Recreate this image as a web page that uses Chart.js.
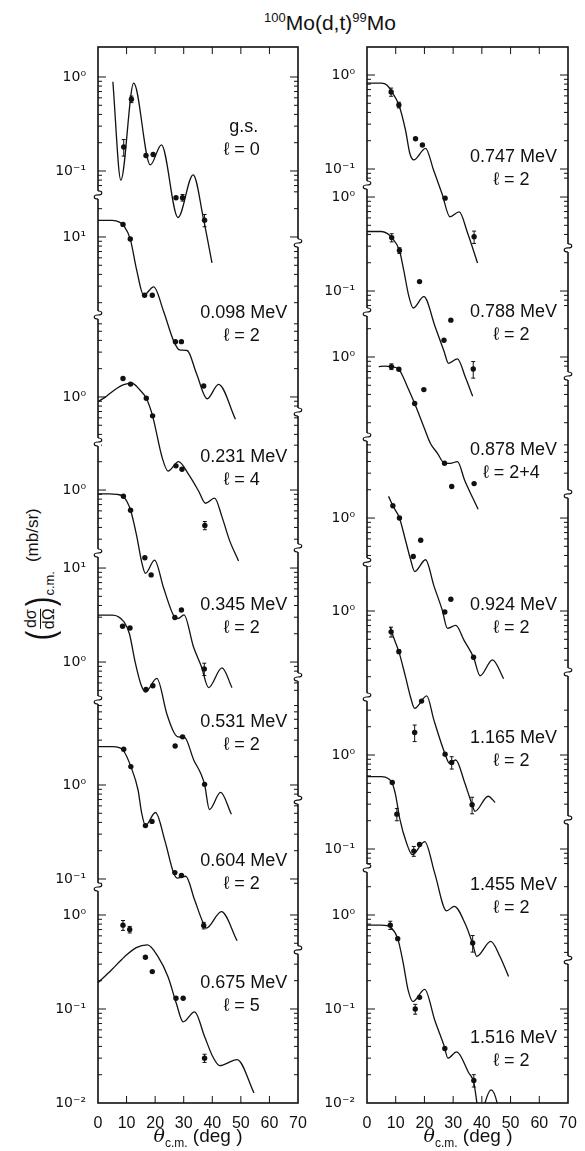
<!DOCTYPE html>
<html>
<head>
<meta charset="utf-8">
<script src="https://cdn.jsdelivr.net/npm/chart.js@4.4.1/dist/chart.umd.min.js"></script>
<style>
  html, body { margin: 0; padding: 0; background: #fff; }
  body { width: 585px; height: 1151px; position: relative; overflow: hidden;
         font-family: "Liberation Sans", Arial, sans-serif; color: #111; }
  canvas { position: absolute; top: 0; }
  #c1 { left: 0; }
  #c2 { left: 310px; }
  #title { position: absolute; left: 230px; top: 10px; width: 200px; text-align: center;
           font-size: 21px; white-space: nowrap; }
  #title sup { font-size: 13px; vertical-align: 8px; }
  #ylab { position: absolute; left: 40px; top: 575px; transform: translate(-50%, -50%) rotate(-90deg);
          display: flex; align-items: center; white-space: nowrap; font-size: 17px; }
  #ylab .par { font-size: 38px; line-height: 1; transform: scaleX(0.75); }
  #ylab .frac { display: inline-flex; flex-direction: column; align-items: center; font-size: 16px; line-height: 1.05; }
  #ylab .num { border-bottom: 1.3px solid #111; padding: 0 1px; }
  #ylab .cm { font-size: 13px; align-self: flex-end; margin-bottom: 2px; }
  #ylab .unit { margin-left: 9px; transform: translateY(-7px); }
  .xt { position: absolute; top: 1124px; width: 160px; text-align: center; font-size: 19px; white-space: nowrap; }
  .xt i { font-family: "DejaVu Serif", serif; }
  .xt sub { font-size: 12px; }
</style>
</head>
<body>
<div id="title"><sup>100</sup>Mo(d,t)<sup>99</sup>Mo</div>
<div id="ylab"><span class="par">(</span><span class="frac"><span class="num">dσ</span><span>dΩ</span></span><span class="par">)</span><span class="cm">c.m.</span><span class="unit">(mb/sr)</span></div>
<canvas id="c1" width="320" height="1151"></canvas>
<canvas id="c2" width="275" height="1151"></canvas>
<div class="xt" style="left:118px"><i>θ</i><sub>c.m.</sub> (deg )</div>
<div class="xt" style="left:388px"><i>θ</i><sub>c.m.</sub> (deg )</div>
<script>
// 100Mo(d,t)99Mo angular distributions: DWBA fits (lines) and data (dots).
// Each entry is [theta_cm (deg), dsigma/dOmega (mb/sr)], data points carry a
// relative error as third value (0 = bar hidden by the dot).

// ---- left column ----
const fit_gs = [[5.2,0.89],[8.0,0.08],[12.5,0.86],[18.3,0.116],[22.2,0.19],[28.0,0.032],[33.3,0.091],[37.0,0.03],[39.9,0.0105]];
const exp_gs = [[9.0,0.18,0.2],[11.7,0.58,0.08],[16.8,0.146,0],[19.3,0.15,0],[27.3,0.052,0],[29.6,0.052,0.08],[37.3,0.030,0.15]];

const fit_098 = [[0,15],[5,15],[7.5,14.4],[9,13.2],[11.3,9.5],[13.5,4.5],[16.0,2.4],[19.5,2.95],[23,1.6],[26.5,0.78],[28.5,0.63],[31.2,0.62],[34.5,0.35],[38.2,0.19],[42.2,0.27],[48.1,0.115]];
const exp_098 = [[8.75,13.6,0],[11.3,9.5,0],[16.3,2.4,0],[19.0,2.4,0],[27.1,0.77,0],[29.2,0.77,0],[37.0,0.26,0]];

const fit_231 = [[0,0.89],[3,1.02],[6,1.2],[9,1.35],[11.9,1.4],[14.5,1.2],[16.9,0.97],[19.1,0.63],[22.4,0.23],[24.5,0.163],[28.2,0.205],[31.7,0.15],[35.2,0.1],[37.6,0.074],[40.8,0.084],[43.4,0.053],[46,0.03],[49.2,0.018]];
const exp_231 = [[8.75,1.57,0],[11.4,1.37,0],[16.9,0.97,0],[19.1,0.63,0],[27.3,0.185,0],[29.4,0.17,0],[37.4,0.043,0.1]];

const fit_345 = [[0,0.91],[4,0.91],[6.5,0.9],[8.9,0.85],[11.4,0.61],[13.5,0.33],[15.4,0.166],[16.6,0.13],[19.8,0.18],[23,0.09],[26.5,0.046],[28.0,0.043],[30.1,0.047],[33.4,0.0215],[36.2,0.0132],[38.7,0.0079],[43.4,0.0128],[46.9,0.0079]];
const exp_345 = [[8.9,0.86,0],[11.4,0.61,0],[16.4,0.19,0],[18.6,0.125,0],[26.9,0.044,0],[29.2,0.053,0],[37.2,0.0125,0.15]];

const fit_531 = [[0,3.16],[5,3.16],[7,3.05],[9,2.7],[11,2.0],[13,1.0],[15,0.58],[16.6,0.48],[20.6,0.67],[24.1,0.28],[26.5,0.18],[28,0.16],[30.3,0.158],[33.5,0.091],[36,0.065],[37.3,0.05],[39,0.027],[42.9,0.041],[46.7,0.024]];
const exp_531 = [[8.6,2.4,0],[11.2,2.3,0],[16.8,0.51,0],[19.2,0.56,0],[27.0,0.128,0],[29.6,0.16,0],[37.3,0.05,0]];

const fit_604 = [[0,2.56],[5,2.56],[7.4,2.5],[9,2.3],[11.5,1.57],[14,0.89],[15.3,0.5],[16.6,0.37],[20.1,0.51],[23.5,0.25],[26.3,0.12],[27.7,0.102],[30.7,0.107],[33.8,0.06],[37.0,0.033],[37.9,0.030],[43.2,0.045],[48.7,0.022]];
const exp_604 = [[9.0,2.4,0],[11.5,1.57,0],[16.6,0.37,0],[18.9,0.41,0],[26.9,0.117,0],[29.2,0.109,0],[37.0,0.032,0.08]];

const fit_675 = [[0,0.19],[4.7,0.26],[9.3,0.36],[13.4,0.45],[17.3,0.48],[21,0.36],[24.5,0.22],[27.4,0.115],[29.8,0.073],[33.8,0.093],[37.3,0.051],[40.2,0.031],[42.6,0.025],[48.7,0.029],[54.6,0.0128]];
const exp_675 = [[8.75,0.78,0.12],[11.1,0.70,0.08],[16.6,0.355,0],[19.0,0.25,0],[27.3,0.13,0],[29.8,0.13,0],[37.3,0.030,0.1]];

// ---- right column ----
const fit_747 = [[0,0.82],[5,0.82],[7,0.78],[8.4,0.68],[11.1,0.48],[13.4,0.26],[14.9,0.147],[16.3,0.125],[20.4,0.166],[23.2,0.097],[26.1,0.055],[28.9,0.031],[32.1,0.035],[35.0,0.021],[38.5,0.01]];
const exp_747 = [[8.4,0.66,0.1],[11.1,0.48,0.07],[16.9,0.21,0],[19.3,0.18,0],[27.2,0.049,0],[37.3,0.019,0.15]];

const fit_788 = [[0,0.43],[5,0.43],[7,0.41],[8.6,0.37],[11.3,0.27],[12.8,0.166],[14.5,0.09],[16.1,0.066],[19.8,0.087],[23.7,0.042],[26.8,0.023],[28.4,0.017],[31.5,0.019],[34.3,0.012],[36.8,0.0076]];
const exp_788 = [[8.6,0.37,0.1],[11.3,0.27,0.07],[18.3,0.126,0],[26.8,0.030,0],[29.2,0.049,0],[37.0,0.0148,0.2]];

const fit_878 = [[4.1,0.79],[6,0.8],[8.5,0.79],[11.1,0.74],[12.5,0.62],[14.5,0.45],[16.6,0.32],[19.8,0.18],[22.1,0.12],[24.5,0.095],[26.8,0.075],[29,0.074],[31.5,0.077],[34.0,0.049],[38.7,0.024]];
const exp_878 = [[8.5,0.79,0.07],[11.1,0.74,0],[16.6,0.32,0],[19.8,0.45,0],[27.0,0.074,0],[29.5,0.042,0],[37.3,0.045,0]];

const fit_924 = [[7.5,1.7],[9.0,1.35],[11.3,1.0],[13.4,0.58],[15.2,0.36],[16.6,0.27],[20.4,0.36],[23.3,0.19],[26.2,0.105],[28.0,0.067],[30.9,0.072],[33.8,0.05],[37.1,0.033],[39.4,0.021],[43.7,0.031],[47.6,0.0195]];
const exp_924 = [[9.0,1.35,0],[11.3,1.0,0],[16.1,0.39,0],[18.7,0.58,0],[27.1,0.10,0],[29.2,0.137,0],[37.1,0.033,0]];

const fit_1165 = [[8.0,0.68],[9.5,0.5],[11.1,0.37],[13.4,0.2],[15.2,0.12],[16.6,0.092],[20.8,0.125],[23.3,0.069],[27.2,0.030],[28.7,0.024],[30.9,0.026],[34,0.015],[36.6,0.0087],[37.6,0.0074],[42.2,0.0107],[44.6,0.0092]];
const exp_1165 = [[8.4,0.60,0.12],[11.1,0.37,0.05],[16.6,0.051,0.2],[19.0,0.11,0],[27.2,0.030,0],[29.5,0.0245,0.15],[36.6,0.0087,0.2]];

const fit_1455 = [[0,0.59],[5,0.59],[7.5,0.56],[8.8,0.5],[10,0.37],[11.4,0.21],[13.8,0.115],[15.8,0.087],[20.1,0.12],[23.6,0.055],[27.7,0.022],[30.4,0.0245],[34.2,0.016],[36.8,0.0098],[38.2,0.0072],[43.1,0.0104],[46.3,0.0072],[49.3,0.0044]];
const exp_1455 = [[8.8,0.51,0],[10.4,0.235,0.15],[16.3,0.095,0.12],[18.3,0.112,0],[36.8,0.010,0.2]];

const fit_1516 = [[0,0.78],[5,0.78],[7,0.77],[8.1,0.75],[10.7,0.56],[12.6,0.31],[14.3,0.16],[16.0,0.12],[20.1,0.162],[23.6,0.076],[26.8,0.041],[28.2,0.030],[31.2,0.035],[35.4,0.021],[37.2,0.0165],[38.5,0.009],[39.5,0.006],[41,0.0098],[43.2,0.0138],[45.5,0.0095],[46.5,0.006]];
const exp_1516 = [[8.1,0.78,0.1],[10.7,0.56,0],[16.8,0.10,0.12],[18.3,0.133,0],[27.1,0.038,0],[37.2,0.0174,0.15]];

const leftStates = ["g.s.", "0.098 MeV", "0.231 MeV", "0.345 MeV", "0.531 MeV", "0.604 MeV", "0.675 MeV"];
const leftL = ["ℓ = 0", "ℓ = 2", "ℓ = 4", "ℓ = 2", "ℓ = 2", "ℓ = 2", "ℓ = 5"];
const rightStates = ["0.747 MeV", "0.788 MeV", "0.878 MeV", "0.924 MeV", "1.165 MeV", "1.455 MeV", "1.516 MeV"];
const rightL = ["ℓ = 2", "ℓ = 2", "ℓ = 2+4", "ℓ = 2", "ℓ = 2", "ℓ = 2", "ℓ = 2"];

// ---- layout: the y axis runs in decades counted from the bottom edge.
// Each curve is shifted so that 10^0 of its own scale sits at `zero`.
const TOP = 11.234;
const leftPanel = {
  fits: [fit_gs, fit_098, fit_231, fit_345, fit_531, fit_604, fit_675],
  exps: [exp_gs, exp_098, exp_231, exp_345, exp_531, exp_604, exp_675],
  states: leftStates, ells: leftL,
  zero: [10.915, 8.213, 7.511, 6.521, 4.691, 3.383, 2.0],
  decades: [[0, -1], [1], [0], [0], [1, 0], [0, -1], [0, -1, -2]],
  breaks: [9.66, 8.383, 7.032, 5.851, 4.287, 2.298],
  rightBreaks: [9.149, 7.351, 5.904, 4.532, 3.223, 1.628],
  textY: [10.383, 8.404, 6.872, 5.298, 4.053, 2.574, 1.277],
  axisWidth: 98, padRight: 22,
};
const rightPanel = {
  fits: [fit_747, fit_788, fit_878, fit_924, fit_1165, fit_1455, fit_1516],
  exps: [exp_747, exp_788, exp_878, exp_924, exp_1165, exp_1455, exp_1516],
  states: rightStates, ells: rightL,
  zero: [10.936, 9.638, 7.936, 6.223, 5.234, 3.702, 2.0],
  decades: [[0, -1], [0, -1], [0], [0], [0], [0, -1], [0, -1, -2]],
  breaks: [9.766, 8.415, 7.085, 5.755, 4.319, 2.5],
  rightBreaks: [9.096, 7.734, 6.479, 4.585, 3.011, 1.521],
  textY: [10.064, 8.415, 6.947, 5.298, 3.883, 2.319, 0.691],
  axisWidth: 57, padRight: 17,
};

const SUP = { "0": "⁰", "1": "¹", "2": "²", "-": "⁻" };
const powLabel = (k) => "10" + String(k).split("").map((c) => SUP[c]).join("");

function segBounds(panel, i) {
  const hi = i === 0 ? TOP : panel.breaks[i - 1];
  const lo = i === panel.breaks.length ? 0 : panel.breaks[i];
  return [lo, hi];
}

function labelTicks(panel) {
  const out = [];
  panel.decades.forEach((ks, i) => ks.forEach((k) => out.push({ value: panel.zero[i] + k, text: powLabel(k) })));
  return out;
}

function allTicks(panel) {
  const out = [];
  panel.zero.forEach((z, i) => {
    const [lo, hi] = segBounds(panel, i);
    for (let k = -4; k <= 3; k++) {
      for (let m = 1; m <= 9; m++) {
        const v = z + k + Math.log10(m);
        if (v > lo + 0.03 && v < hi - 0.03) out.push({ v, major: m === 1 });
      }
    }
  });
  return out;
}

function squiggle(ctx, x, y) {
  ctx.save();
  ctx.fillStyle = "#fff";
  ctx.fillRect(x - 3, y - 4, 6, 8);
  ctx.beginPath();
  ctx.moveTo(x, y - 4);
  ctx.bezierCurveTo(x + 5, y - 4, x + 5, y, x, y);
  ctx.bezierCurveTo(x - 5, y, x - 5, y + 4, x, y + 4);
  ctx.lineWidth = 1.2;
  ctx.strokeStyle = "#111";
  ctx.stroke();
  ctx.restore();
}

function framePlugin(panel) {
  return {
    id: "frame",
    afterDatasetsDraw(chart) {
      const { ctx, chartArea: a } = chart;
      const xs = chart.scales.x, ys = chart.scales.y;
      ctx.save();
      ctx.strokeStyle = "#111";

      // error bars
      ctx.lineWidth = 1;
      panel.exps.forEach((pts, i) => pts.forEach(([t, s, e]) => {
        if (!e) return;
        const px = xs.getPixelForValue(t);
        const y1 = ys.getPixelForValue(Math.log10(s * (1 + e)) + panel.zero[i]);
        const y2 = ys.getPixelForValue(Math.log10(s * (1 - e)) + panel.zero[i]);
        ctx.beginPath();
        ctx.moveTo(px, y1); ctx.lineTo(px, y2);
        ctx.moveTo(px - 2, y1); ctx.lineTo(px + 2, y1);
        ctx.moveTo(px - 2, y2); ctx.lineTo(px + 2, y2);
        ctx.stroke();
      }));

      // frame
      ctx.lineWidth = 1.6;
      ctx.strokeRect(a.left, a.top, a.right - a.left, a.bottom - a.top);

      // inward ticks, log minors on both sides
      ctx.lineWidth = 1;
      ctx.beginPath();
      allTicks(panel).forEach(({ v, major }) => {
        const py = ys.getPixelForValue(v);
        const len = major ? 8 : 4;
        ctx.moveTo(a.left, py); ctx.lineTo(a.left + len, py);
        if (!panel.rightBreaks.some((b) => Math.abs(b - v) < 0.06)) {
          ctx.moveTo(a.right, py); ctx.lineTo(a.right - len, py);
        }
      });
      for (let t = 10; t <= 60; t += 10) {
        const px = xs.getPixelForValue(t);
        ctx.moveTo(px, a.top); ctx.lineTo(px, a.top + 7);
        ctx.moveTo(px, a.bottom); ctx.lineTo(px, a.bottom - 7);
      }
      ctx.stroke();

      // axis breaks
      panel.breaks.forEach((b) => squiggle(ctx, a.left, ys.getPixelForValue(b)));
      panel.rightBreaks.forEach((b) => squiggle(ctx, a.right, ys.getPixelForValue(b)));

      // state labels
      ctx.fillStyle = "#111";
      ctx.textAlign = "center";
      ctx.textBaseline = "middle";
      ctx.font = '18px "Liberation Sans", Arial, sans-serif';
      const cx = xs.getPixelForValue(51);
      panel.states.forEach((s, i) => {
        const py = ys.getPixelForValue(panel.textY[i]);
        ctx.fillText(s, cx, py);
        ctx.fillText(panel.ells[i], cx - 2, py + 23);
      });
      ctx.restore();
    },
  };
}

function makeChart(id, panel) {
  const datasets = [];
  panel.fits.forEach((fit, i) => datasets.push({
    data: fit.map(([t, s]) => ({ x: t, y: Math.log10(s) + panel.zero[i] })),
    borderColor: "#111", borderWidth: 1.3, pointRadius: 0,
    cubicInterpolationMode: "monotone", fill: false,
  }));
  panel.exps.forEach((pts, i) => datasets.push({
    data: pts.map(([t, s]) => ({ x: t, y: Math.log10(s) + panel.zero[i] })),
    showLine: false, pointRadius: 2.7, pointBackgroundColor: "#111",
    pointBorderWidth: 0, borderColor: "#111",
  }));
  const yLabels = labelTicks(panel);
  return new Chart(document.getElementById(id), {
    type: "line",
    data: { datasets },
    options: {
      responsive: false, devicePixelRatio: 1, animation: false, events: [],
      layout: { padding: { left: 0, right: panel.padRight, top: 47, bottom: 0 } },
      plugins: { legend: { display: false }, tooltip: { enabled: false } },
      scales: {
        x: {
          type: "linear", min: 0, max: 70,
          grid: { display: false }, border: { display: false },
          ticks: { stepSize: 10, padding: 3, color: "#111", maxRotation: 0, autoSkip: false,
                   font: { family: "Liberation Sans", size: 16 } },
          afterFit: (s) => { s.height = 48; },
        },
        y: {
          type: "linear", min: 0, max: TOP,
          grid: { display: false }, border: { display: false },
          afterBuildTicks: (s) => { s.ticks = yLabels.map((l) => ({ value: l.value })); },
          afterFit: (s) => { s.width = panel.axisWidth; },
          ticks: {
            autoSkip: false, padding: 4, color: "#111",
            font: { family: "DejaVu Sans", size: 14 },
            callback: (v) => {
              const hit = yLabels.find((l) => Math.abs(l.value - v) < 1e-6);
              return hit ? hit.text : "";
            },
          },
        },
      },
    },
    plugins: [framePlugin(panel)],
  });
}

makeChart("c1", leftPanel);
makeChart("c2", rightPanel);
</script>
</body>
</html>
